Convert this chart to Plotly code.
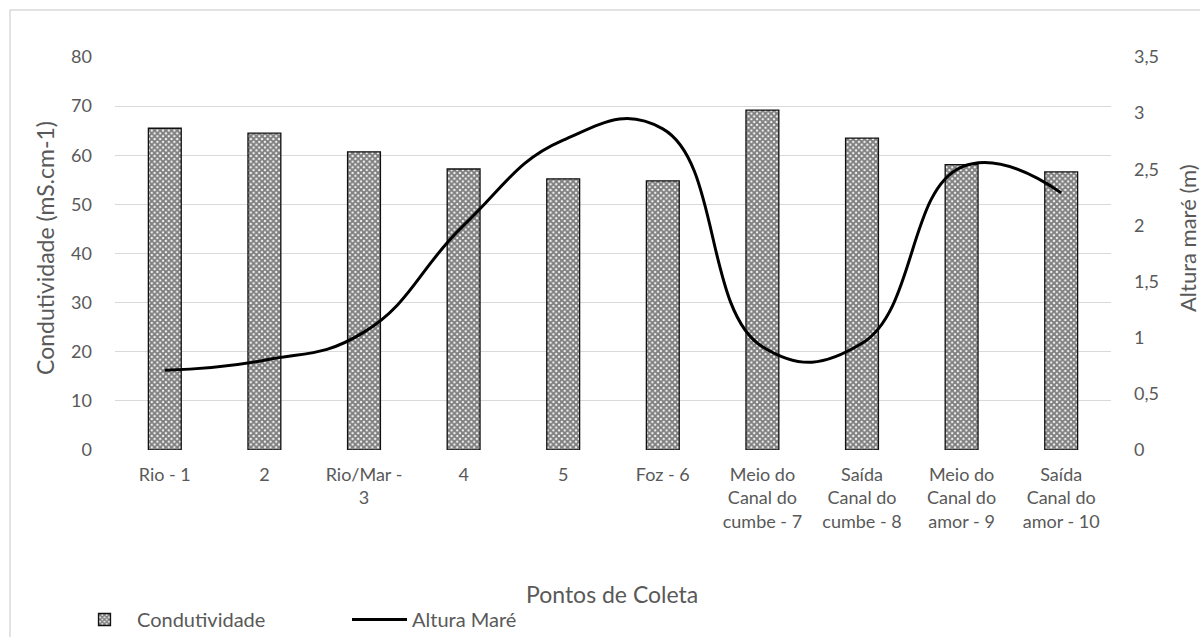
import plotly.graph_objects as go

# Sampling points along the estuary
pontos = [
    "Rio - 1", "2", "Rio/Mar -<br>3", "4", "5", "Foz - 6",
    "Meio do<br>Canal do<br>cumbe - 7", "Saída<br>Canal do<br>cumbe - 8",
    "Meio do<br>Canal do<br>amor - 9", "Saída<br>Canal do<br>amor - 10",
]
condutividade = [65.5, 64.5, 60.7, 57.2, 55.2, 54.8, 69.2, 63.5, 58.1, 56.6]
altura_mare = [0.71, 0.80, 1.05, 2.00, 2.76, 2.86, 0.92, 0.95, 2.52, 2.29]

left_ticks = [0, 10, 20, 30, 40, 50, 60, 70, 80]
right_ticks = [0, 0.5, 1, 1.5, 2, 2.5, 3, 3.5]

FONT = "Lato, Open Sans, sans-serif"
TXT = "#595959"

fig = go.Figure()

fig.add_trace(go.Bar(
    x=pontos, y=condutividade, name="Condutividade",
    width=0.33,
    marker=dict(
        color="white",
        line=dict(color="#111111", width=1.3),
        pattern=dict(shape="x", fgcolor="black", bgcolor="white",
                     size=4, solidity=0.75),
    ),
    yaxis="y",
))

fig.add_trace(go.Scatter(
    x=pontos, y=altura_mare, name="Altura Maré",
    mode="lines",
    line=dict(color="black", width=3, shape="spline", smoothing=1.3),
    yaxis="y2",
))

W, H = 1200, 637
ml, mr, mt, mb = 115, 89, 57, 187
pw, ph = W - ml - mr, H - mt - mb


def px_x(p):
    return (p - ml) / pw


def px_y(p):
    return (H - mb - p) / ph


fig.update_layout(
    width=W, height=H,
    margin=dict(l=ml, r=mr, t=mt, b=mb, autoexpand=False),
    paper_bgcolor="white", plot_bgcolor="white",
    separators=",.",
    font=dict(family=FONT, color=TXT, size=18),
    bargap=0.67,
    xaxis=dict(
        type="category", tickfont=dict(size=18, color=TXT),
        showgrid=False, showline=False, ticks="", ticklabelstandoff=12,
        tickangle=0,
    ),
    yaxis=dict(
        range=[0, 80], tickvals=left_ticks, showgrid=True,
        gridcolor="#d9d9d9", gridwidth=1.2, zeroline=False,
        showline=False, ticks="", ticklabelstandoff=22,
        tickfont=dict(size=18, color=TXT),
    ),
    yaxis2=dict(
        range=[0, 3.5], tickvals=right_ticks, overlaying="y", side="right",
        showgrid=False, zeroline=False, showline=False, ticks="",
        ticklabelstandoff=22, tickfont=dict(size=18, color=TXT),
    ),
    showlegend=True,
    legend=dict(
        orientation="h", x=px_x(72), y=px_y(600), xanchor="left",
        yanchor="top", font=dict(size=20, color=TXT), itemwidth=55,
        bgcolor="rgba(0,0,0,0)", tracegroupgap=0,
        entrywidth=205,
    ),
    annotations=[
        dict(text="Condutividade (mS.cm-1)", xref="paper", yref="paper",
             x=px_x(45), y=px_y(248), textangle=-90, showarrow=False,
             font=dict(size=23, color=TXT), xanchor="center", yanchor="middle"),
        dict(text="Altura maré (m)", xref="paper", yref="paper",
             x=px_x(1188), y=px_y(238), textangle=-90, showarrow=False,
             font=dict(size=22, color=TXT), xanchor="center", yanchor="middle"),
        dict(text="Pontos de Coleta", xref="paper", yref="paper",
             x=px_x(612), y=px_y(594), showarrow=False,
             font=dict(size=23, color=TXT), xanchor="center", yanchor="middle"),
    ],
    shapes=[
        dict(type="rect", xref="paper", yref="paper",
             x0=px_x(10), x1=px_x(1215), y0=px_y(660), y1=px_y(10),
             line=dict(color="#d9d9d9", width=1.5), fillcolor="rgba(0,0,0,0)",
             layer="below"),
    ],
)

fig.write_html("out.html")
